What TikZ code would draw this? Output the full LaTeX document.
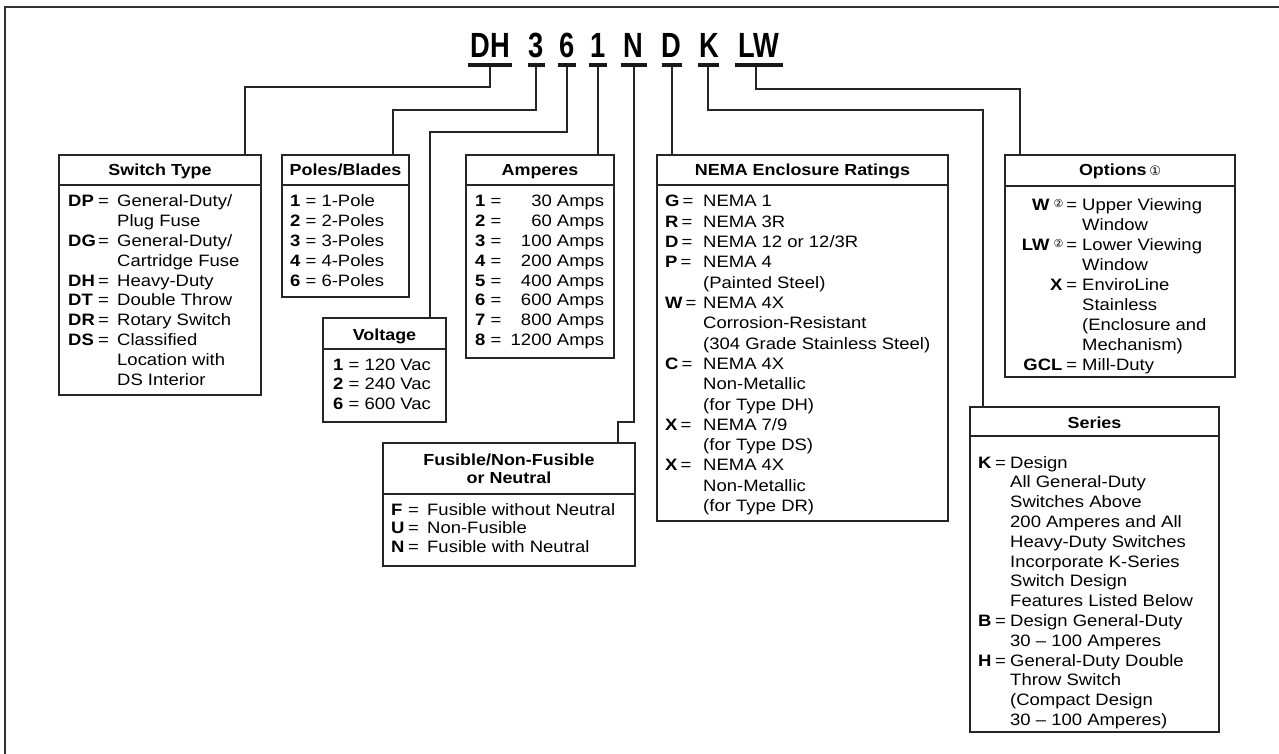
\documentclass[tikz,border=0pt]{standalone}
\usepackage{fontspec}
\usepackage{array}
\setmainfont{Liberation Sans}[FakeStretch=1.12]
\newfontfamily\codefont{Liberation Sans}[FakeStretch=0.78]
\newfontfamily\circfont{DejaVu Sans}
\usetikzlibrary{calc}
\newcommand\kq[3]{\makebox[#1][l]{\textbf{#3}}\makebox[#2][l]{=}}
\newcommand\ctwo{\raisebox{3pt}{\circfont\fontsize{11}{11}\selectfont ②}}
\tikzset{
  boxnode/.style={draw=black!85, line width=1.2pt, inner sep=0pt, outer sep=0pt, anchor=north west},
  sepline/.style={draw=black!85, line width=1.2pt},
  hdr/.style={anchor=base, inner sep=0pt, font=\fontsize{16}{18}\selectfont\bfseries, align=center},
  bodytext/.style={anchor=base west, inner sep=0pt, font=\fontsize{16.5}{19.8}\selectfont},
  conn/.style={draw=black!85, line width=1.2pt},
  framestyle/.style={draw=black!80, line width=1.2pt},
  codeletter/.style={anchor=base, inner sep=0pt, font=\codefont\bfseries\fontsize{35}{35}\selectfont},
  codebar/.style={fill=black!90, draw=none, inner sep=0pt, outer sep=0pt, minimum height=3.5pt},
}
\begin{document}
\begin{tikzpicture}[x=1pt,y=-1pt]
\useasboundingbox (0,0) rectangle (1279,754);
% outer frame (cropped)
\draw[framestyle] (5,754) -- (5,7) -- (1279,7);

% code letters
\node[codeletter] (cDH) at (490,58) {DH};
\node[codeletter] (c3) at (536,58) {3};
\node[codeletter] (c6) at (567,58) {6};
\node[codeletter] (c1) at (598,58) {1};
\node[codeletter] (cN) at (633,58) {N};
\node[codeletter] (cD) at (671.5,58) {D};
\node[codeletter] (cK) at (709,58) {K};
\node[codeletter] (cLW) at (758.5,58) {LW};
% bars
\node[codebar, minimum width=44pt] (bDH) at (490,65) {};
\node[codebar, minimum width=17pt] (b3) at (536,65) {};
\node[codebar, minimum width=18pt] (b6) at (567,65) {};
\node[codebar, minimum width=18pt] (b1) at (598,65) {};
\node[codebar, minimum width=26pt] (bN) at (634,65) {};
\node[codebar, minimum width=20pt] (bD) at (672,65) {};
\node[codebar, minimum width=21pt] (bK) at (708,65) {};
\node[codebar, minimum width=48pt] (bLW) at (759,65) {};

% ---------- Switch Type
\node[boxnode, minimum width=202pt, minimum height=240pt] (st) at (59,155) {};
\draw[sepline] ($(st.north west)+(0,30)$) -- ($(st.north east)+(0,30)$);
\node[hdr] (sth) at ($(st.north)+(0,21)$) {Switch Type};
\node[bodytext] (stb) at ($(st.north west)+(9,52)$) {\begin{tabular}[t]{@{}l@{}}
\kq{30pt}{19pt}{DP}General-Duty/\\
\hspace*{49pt}Plug Fuse\\
\kq{30pt}{19pt}{DG}General-Duty/\\
\hspace*{49pt}Cartridge Fuse\\
\kq{30pt}{19pt}{DH}Heavy-Duty\\
\kq{30pt}{19pt}{DT}Double Throw\\
\kq{30pt}{19pt}{DR}Rotary Switch\\
\kq{30pt}{19pt}{DS}Classified\\
\hspace*{49pt}Location with\\
\hspace*{49pt}DS Interior
\end{tabular}};

% ---------- Poles/Blades
\node[boxnode, minimum width=127pt, minimum height=142pt] (pb) at (282,155) {};
\draw[sepline] ($(pb.north west)+(0,30)$) -- ($(pb.north east)+(0,30)$);
\node[hdr] (pbh) at ($(pb.north)+(0,21)$) {Poles/Blades};
\node[bodytext] (pbb) at ($(pb.north west)+(8,52)$) {\begin{tabular}[t]{@{}l@{}}
\textbf{1} = 1-Pole\\
\textbf{2} = 2-Poles\\
\textbf{3} = 3-Poles\\
\textbf{4} = 4-Poles\\
\textbf{6} = 6-Poles
\end{tabular}};

% ---------- Voltage
\node[boxnode, minimum width=123pt, minimum height=104pt] (vo) at (323,318) {};
\draw[sepline] ($(vo.north west)+(0,31)$) -- ($(vo.north east)+(0,31)$);
\node[hdr] (voh) at ($(vo.north)+(0,22)$) {Voltage};
\node[bodytext] (vob) at ($(vo.north west)+(10,52)$) {\begin{tabular}[t]{@{}l@{}}
\textbf{1} = 120 Vac\\
\textbf{2} = 240 Vac\\
\textbf{6} = 600 Vac
\end{tabular}};

% ---------- Amperes
\node[boxnode, minimum width=148pt, minimum height=203pt] (am) at (466,155) {};
\draw[sepline] ($(am.north west)+(0,30)$) -- ($(am.north east)+(0,30)$);
\node[hdr] (amh) at ($(am.north)+(0,21)$) {Amperes};
\node[bodytext] (amb) at ($(am.north west)+(9,52)$) {\begin{tabular}[t]{@{}l@{}}
\rlap{\textbf{1} =}\makebox[129pt][r]{30 Amps}\\
\rlap{\textbf{2} =}\makebox[129pt][r]{60 Amps}\\
\rlap{\textbf{3} =}\makebox[129pt][r]{100 Amps}\\
\rlap{\textbf{4} =}\makebox[129pt][r]{200 Amps}\\
\rlap{\textbf{5} =}\makebox[129pt][r]{400 Amps}\\
\rlap{\textbf{6} =}\makebox[129pt][r]{600 Amps}\\
\rlap{\textbf{7} =}\makebox[129pt][r]{800 Amps}\\
\rlap{\textbf{8} =}\makebox[129pt][r]{1200 Amps}
\end{tabular}};

% ---------- NEMA
\node[boxnode, minimum width=291pt, minimum height=366pt] (ne) at (657,155) {};
\draw[sepline] ($(ne.north west)+(0,30)$) -- ($(ne.north east)+(0,30)$);
\node[hdr] (neh) at ($(ne.north)+(0,21)$) {NEMA Enclosure Ratings};
\node[bodytext, font=\fontsize{16.5}{20.3}\selectfont] (neb) at ($(ne.north west)+(8,52)$) {\begin{tabular}[t]{@{}l@{}}
\makebox[38pt][l]{\textbf{G}\hspace{3pt}=}NEMA 1\\
\makebox[38pt][l]{\textbf{R}\hspace{3pt}=}NEMA 3R\\
\makebox[38pt][l]{\textbf{D}\hspace{3pt}=}NEMA 12 or 12/3R\\
\makebox[38pt][l]{\textbf{P}\hspace{3pt}=}NEMA 4\\
\hspace*{38pt}(Painted Steel)\\
\makebox[38pt][l]{\textbf{W}\hspace{3pt}=}NEMA 4X\\
\hspace*{38pt}Corrosion-Resistant\\
\hspace*{38pt}(304 Grade Stainless Steel)\\
\makebox[38pt][l]{\textbf{C}\hspace{3pt}=}NEMA 4X\\
\hspace*{38pt}Non-Metallic\\
\hspace*{38pt}(for Type DH)\\
\makebox[38pt][l]{\textbf{X}\hspace{3pt}=}NEMA 7/9\\
\hspace*{38pt}(for Type DS)\\
\makebox[38pt][l]{\textbf{X}\hspace{3pt}=}NEMA 4X\\
\hspace*{38pt}Non-Metallic\\
\hspace*{38pt}(for Type DR)
\end{tabular}};

% ---------- Options
\node[boxnode, minimum width=230pt, minimum height=222pt] (op) at (1005,155) {};
\draw[sepline] ($(op.north west)+(0,31)$) -- ($(op.north east)+(0,31)$);
\node[hdr] (oph) at ($(op.north)+(0,21)$) {Options\,{\circfont\mdseries\fontsize{13}{13}\selectfont ①}};
\node[bodytext, font=\fontsize{16.5}{19.9}\selectfont] (opb) at ($(op.north west)+(77,56)$) {\begin{tabular}[t]{@{}l@{}}
\llap{\textbf{W}\hspace{4pt}\ctwo\hspace{3pt}=\hspace{5pt}}Upper Viewing\\
Window\\
\llap{\textbf{LW}\hspace{4pt}\ctwo\hspace{3pt}=\hspace{5pt}}Lower Viewing\\
Window\\
\llap{\textbf{X}\hspace{4pt}=\hspace{5pt}}EnviroLine\\
Stainless\\
(Enclosure and\\
Mechanism)\\
\llap{\textbf{GCL}\hspace{4pt}=\hspace{5pt}}Mill-Duty
\end{tabular}};

% ---------- Series
\node[boxnode, minimum width=249pt, minimum height=325pt] (se) at (970,407) {};
\draw[sepline] ($(se.north west)+(0,29)$) -- ($(se.north east)+(0,29)$);
\node[hdr] (seh) at ($(se.north)+(0,21)$) {Series};
\node[bodytext] (seb) at ($(se.north west)+(8,61)$) {\begin{tabular}[t]{@{}l@{}}
\kq{17pt}{15pt}{K}Design\\
\hspace*{32pt}All General-Duty\\
\hspace*{32pt}Switches Above\\
\hspace*{32pt}200 Amperes and All\\
\hspace*{32pt}Heavy-Duty Switches\\
\hspace*{32pt}Incorporate K-Series\\
\hspace*{32pt}Switch Design\\
\hspace*{32pt}Features Listed Below\\
\kq{17pt}{15pt}{B}Design General-Duty\\
\hspace*{32pt}30 -- 100 Amperes\\
\kq{17pt}{15pt}{H}General-Duty Double\\
\hspace*{32pt}Throw Switch\\
\hspace*{32pt}(Compact Design\\
\hspace*{32pt}30 -- 100 Amperes)
\end{tabular}};

% ---------- Fusible
\node[boxnode, minimum width=252pt, minimum height=123pt] (fu) at (383,443) {};
\draw[sepline] ($(fu.north west)+(0,51)$) -- ($(fu.north east)+(0,51)$);
\node[hdr] (fuh) at ($(fu.north)+(0,40)$) {Fusible/Non-Fusible\\or Neutral};
\node[bodytext, font=\fontsize{16.5}{18.5}\selectfont] (fub) at ($(fu.north west)+(8,72)$) {\begin{tabular}[t]{@{}l@{}}
\kq{17pt}{19pt}{F}Fusible without Neutral\\
\kq{17pt}{19pt}{U}Non-Fusible\\
\kq{17pt}{19pt}{N}Fusible with Neutral
\end{tabular}};

% ---------- connectors
\coordinate (jDH) at (245,87);
\coordinate (j3) at (393,110);
\coordinate (j6) at (430,132);
\coordinate (jN1) at (634,422);
\coordinate (jN2) at (618,422);
\coordinate (jK) at (983,110);
\coordinate (jLW) at (1020,89);
\draw[conn] (bDH.south) |- (jDH) -- (jDH |- st.north);
\draw[conn] (b3.south) |- (j3) -- (j3 |- pb.north);
\draw[conn] (b6.south) |- (j6) -- (j6 |- vo.north);
\draw[conn] (b1.south) -- (b1.south |- am.north);
\draw[conn] (bN.south) -- (jN1) -- (jN2) -- (jN2 |- fu.north);
\draw[conn] (bD.south) -- (bD.south |- ne.north);
\draw[conn] (bK.south) |- (jK) -- (jK |- se.north);
\draw[conn] ($(bLW.south)+(-3,0)$) |- (jLW) -- (jLW |- op.north);
\end{tikzpicture}
\end{document}
